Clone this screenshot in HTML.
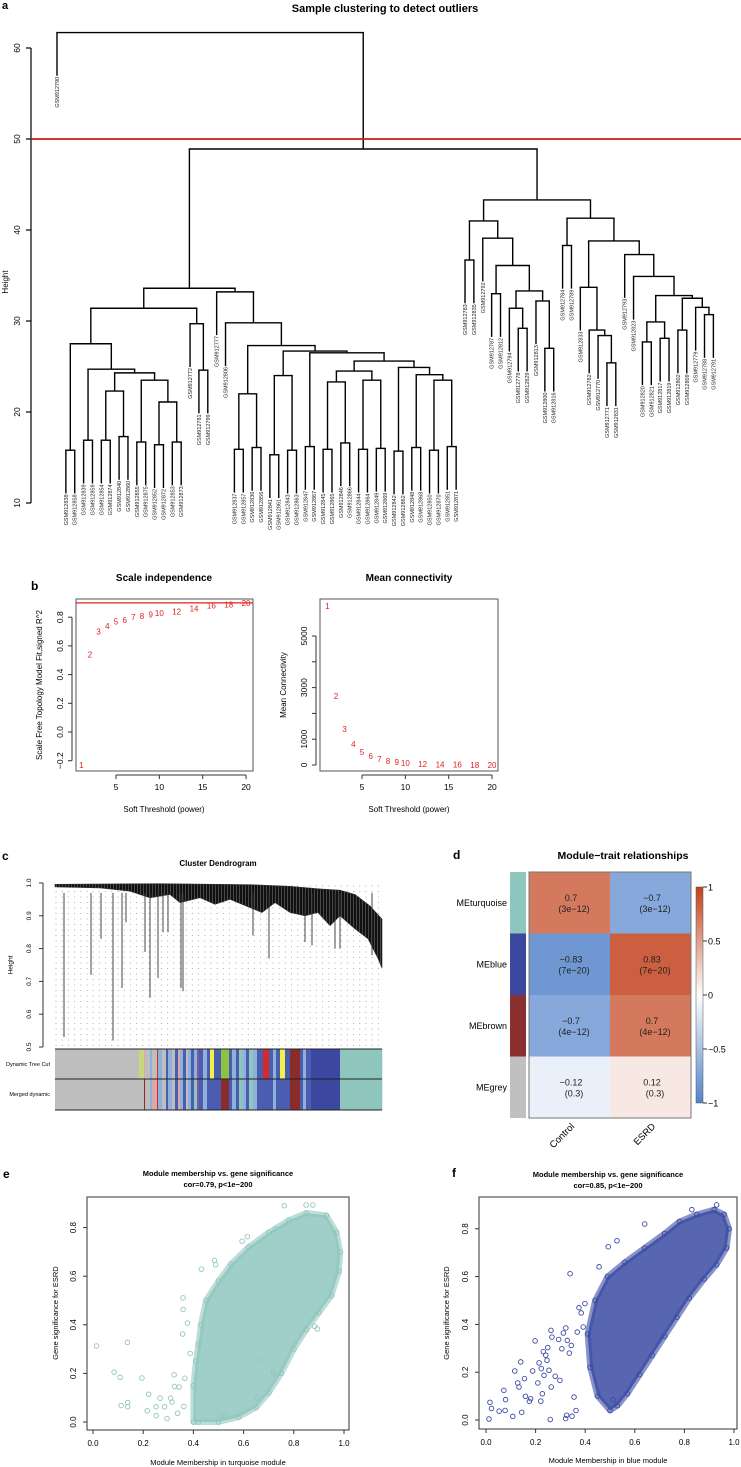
<!DOCTYPE html>
<html><head><meta charset="utf-8">
<style>
html,body{margin:0;padding:0;background:#fff;}
svg{display:block;font-family:"Liberation Sans",Arial,sans-serif;}
</style></head>
<body>
<svg id="fig" xmlns="http://www.w3.org/2000/svg" width="741" height="1467" viewBox="0 0 741 1467">
<defs>
<pattern id="dots" x="55" y="885" width="6.2" height="5.5" patternUnits="userSpaceOnUse"><circle cx="1" cy="1" r="0.45" fill="#888"/></pattern>
<pattern id="hair" x="0" y="0" width="3" height="4" patternUnits="userSpaceOnUse"><rect width="3" height="4" fill="#111"/><rect x="2" width="0.8" height="4" fill="#555"/></pattern>
<linearGradient id="cbar" x1="0" y1="0" x2="0" y2="1">
<stop offset="0" stop-color="#c2411a"/><stop offset="0.5" stop-color="#ffffff"/><stop offset="1" stop-color="#5283ca"/>
</linearGradient>
</defs>
<text x="2" y="9" font-size="11" font-weight="bold">a</text>
<text x="385" y="12" font-size="11" font-weight="bold" text-anchor="middle">Sample clustering to detect outliers</text>
<text x="6" y="282" font-size="8" text-anchor="middle" transform="rotate(-90 6 282)" dominant-baseline="middle">Height</text>

<text x="31" y="590" font-size="12" font-weight="bold">b</text>
<text x="164" y="581" font-size="10" font-weight="bold" text-anchor="middle">Scale independence</text>
<text x="409" y="581" font-size="10" font-weight="bold" text-anchor="middle">Mean connectivity</text>
<text x="40" y="685" font-size="8" text-anchor="middle" transform="rotate(-90 40 685)" dominant-baseline="middle">Scale Free Topology Model Fit,signed R^2</text>
<text x="284" y="685" font-size="8" text-anchor="middle" transform="rotate(-90 284 685)" dominant-baseline="middle">Mean Connectivity</text>
<text x="164" y="812" font-size="8" text-anchor="middle">Soft Threshold (power)</text>
<text x="409" y="812" font-size="8" text-anchor="middle">Soft Threshold (power)</text>

<text x="2" y="860" font-size="12" font-weight="bold">c</text>
<text x="218" y="866" font-size="8" font-weight="bold" text-anchor="middle">Cluster Dendrogram</text>
<text x="11" y="965" font-size="6.5" text-anchor="middle" transform="rotate(-90 11 965)" dominant-baseline="middle">Height</text>
<text x="50" y="1066" font-size="5.5" text-anchor="end">Dynamic Tree Cut</text>
<text x="50" y="1096" font-size="5.5" text-anchor="end">Merged dynamic</text>

<text x="453" y="859" font-size="12" font-weight="bold">d</text>
<text x="623" y="859" font-size="10.5" font-weight="bold" text-anchor="middle">Module−trait relationships</text>

<text x="3" y="1178" font-size="12" font-weight="bold">e</text>
<text x="218" y="1176" font-size="7.5" font-weight="bold" text-anchor="middle">Module membership vs. gene significance</text>
<text x="218" y="1187" font-size="7.5" font-weight="bold" text-anchor="middle">cor=0.79, p&lt;1e−200</text>
<text x="56" y="1313" font-size="7.5" text-anchor="middle" transform="rotate(-90 56 1313)" dominant-baseline="middle">Gene significance for  ESRD</text>
<text x="218" y="1465" font-size="7.5" text-anchor="middle">Module Membership in turquoise module</text>

<text x="452" y="1177" font-size="12" font-weight="bold">f</text>
<text x="608" y="1177" font-size="7.5" font-weight="bold" text-anchor="middle">Module membership vs. gene significance</text>
<text x="608" y="1188" font-size="7.5" font-weight="bold" text-anchor="middle">cor=0.85, p&lt;1e−200</text>
<text x="447" y="1313" font-size="7.5" text-anchor="middle" transform="rotate(-90 447 1313)" dominant-baseline="middle">Gene significance for  ESRD</text>
<text x="608" y="1463" font-size="7.5" text-anchor="middle">Module Membership in blue module</text>
</svg>
<script>
// ---------- DATA ----------
const sampleNames = ["12790","12838","12858","12839","12859","12854","12874","12840","12860","12855","12875","12852","12872","12853","12873","12772","12781","12799","12777","12806","12837","12857","12836","12856","12841","12861","12843","12863","12847","12867","12845","12865","12846","12866","12844","12864","12849","12869","12842","12862","12848","12868","12850","12870","12851","12871","12783","12835","12792","12787","12812","12794","12778","12829","12813","12800","12816","12784","12789","12833","12782","12770","12771","12831","12793","12823","12820","12821","12817","12819","12802","12809","12779","12788","12791"];
const treeA = [27.5,[15.8,1,2],[24.7,[16.9,3,4],[24.3,[22.3,[16.9,5,6],[17.3,7,8]],[23.5,[16.7,9,10],[21.1,[16.4,11,12],[16.7,13,14]]]]]];
const treeB = [29.7,15,[24.6,16,17]];
const treeD = [27.3,[22.0,[15.9,20,21],[16.1,22,23]],[26.7,[24.0,[15.3,24,25],[15.8,26,27]],[26.5,[16.2,28,29],[25.6,[24.5,[23.3,[15.9,30,31],[16.6,32,33]],[23.5,[15.9,34,35],[16.0,36,37]]],[24.9,[15.7,38,39],[24.1,[16.1,40,41],[23.5,[15.8,42,43],[16.2,44,45]]]]]]]];
const treeL = [33.6,[31.4,treeA,treeB],[33.2,18,[29.8,19,treeD]]];
const treeR1 = [41.0,[36.7,46,47],[39.1,48,[36.1,[33.0,49,50],[33.3,[31.4,51,[29.2,52,53]],[32.2,54,[27.0,55,56]]]]]];
const treeR2 = [41.3,[38.3,57,58],[38.8,[33.7,59,[29.0,60,[28.4,61,[25.4,62,63]]]],[37.3,64,[34.9,65,[32.8,[29.9,[27.7,66,67],[28.1,68,69]],[32.5,[29.0,70,71],[31.5,72,[30.7,73,74]]]]]]]];
const sampleTree = [61.7,0,[48.9,treeL,[43.3,treeR1,treeR2]]];
const heightTicks = [10,20,30,40,50,60];
const cutHeight = 50;

const powers = [1,2,3,4,5,6,7,8,9,10,12,14,16,18,20];
const r2Values = [-0.23,0.54,0.70,0.74,0.77,0.78,0.80,0.81,0.82,0.83,0.84,0.86,0.88,0.89,0.90];
const meanK = [6160,2670,1400,810,500,350,230,160,110,80,40,20,10,5,3];
const r2Ticks = [-0.2,0,0.2,0.4,0.6,0.8];
const kTicks = [0,1000,2000,3000,4000,5000];
const kTickLabels = ["0","1000","","3000","","5000"];
const powerTicks = [5,10,15,20];
const r2Cut = 0.9;

const dendroTop = [[55,0.996],[160,0.998],[250,0.995],[290,0.99],[320,0.982],[340,0.978],[355,0.965],[370,0.93],[382,0.89]];
const dendroBottom = [[55,0.988],[100,0.985],[130,0.975],[150,0.955],[170,0.965],[180,0.94],[200,0.955],[215,0.935],[230,0.95],[250,0.925],[262,0.91],[275,0.94],[290,0.91],[305,0.90],[318,0.91],[330,0.87],[340,0.90],[355,0.86],[368,0.83],[378,0.77],[382,0.74]];
const dendroDropX = [64,91,101,113,122,126,145,150,158,163,168,181,183,253,269,305,312,335,340,372];
const dendroDropH = [0.53,0.72,0.83,0.52,0.68,0.88,0.79,0.65,0.71,0.85,0.85,0.68,0.67,0.84,0.77,0.82,0.81,0.80,0.80,0.78];
const dendroTicks = [0.5,0.6,0.7,0.8,0.9,1.0];
const moduleColors = {g:"#bebebe",L:"#c7d97a",k:"#d9a9a9",n:"#8b2c2c",l:"#8fb0d9",r:"#d42a2a",b:"#4a5db0",B:"#3c48a0",p:"#7b5aa0",t:"#8ec6be",y:"#f1f14a",G:"#8cc33f"};
const colorSegments = [[55,137,"g","g"],[137,139,"g","g"],[139,144,"L","g"],[144,145,"k","n"],[145,150,"g","g"],[150,152,"l","l"],[152,157,"g","k"],[157,158,"r","r"],[158,162,"l","l"],[162,166,"g","g"],[166,168,"b","b"],[168,172,"l","l"],[172,175,"g","g"],[175,178,"b","b"],[178,180,"k","k"],[180,183,"l","l"],[183,186,"b","b"],[186,188,"g","g"],[188,191,"l","l"],[191,194,"b","b"],[194,197,"l","t"],[197,199,"p","p"],[199,203,"b","b"],[203,207,"l","l"],[207,210,"b","b"],[210,214,"y","b"],[214,221,"b","b"],[221,229,"G","n"],[229,232,"b","b"],[232,236,"l","l"],[236,239,"b","b"],[239,243,"t","t"],[243,246,"l","l"],[246,249,"b","b"],[249,253,"t","t"],[253,257,"l","l"],[257,263,"b","b"],[263,269,"r","b"],[269,273,"b","b"],[273,276,"l","l"],[276,280,"b","b"],[280,285,"y","b"],[285,290,"b","b"],[290,300,"n","n"],[300,303,"b","b"],[303,306,"l","l"],[306,311,"b","b"],[311,340,"B","B"],[340,382,"t","t"]];

const modules = ["MEturquoise","MEblue","MEbrown","MEgrey"];
const moduleSwatch = ["#8ec6be","#3c48a0","#8b2f2f","#c0c0c0"];
const traits = ["Control","ESRD"];
const corControl = [0.7,-0.83,-0.7,-0.12];
const corESRD = [-0.7,0.83,0.7,0.12];
const pvals = ["3e-12","7e-20","4e-12","0.3"];
const cbarTicks = [1,0.5,0,-0.5,-1];

const eCloudMM = [0.40,0.40,0.41,0.42,0.43,0.45,0.50,0.55,0.62,0.70,0.78,0.85,0.93,0.97,0.985,0.98,0.95,0.90,0.85,0.80,0.75,0.70,0.65,0.58,0.50,0.42];
const eCloudGS = [0.00,0.15,0.25,0.32,0.40,0.50,0.58,0.65,0.72,0.78,0.83,0.86,0.85,0.78,0.70,0.62,0.52,0.45,0.38,0.30,0.20,0.12,0.06,0.02,0.00,0.00];
const eOutMM = [0.014,0.137,0.084,0.108,0.195,0.112,0.138,0.138,0.222,0.216,0.251,0.252,0.267,0.285,0.295,0.309,0.323,0.315,0.337,0.325,0.343,0.359,0.359,0.357,0.376,0.387,0.366,0.362,0.432,0.484,0.669,0.718,0.720,0.652,0.506,0.528,0.894,0.883,0.762,0.849,0.876,0.727,0.615,0.594,0.489];
const eOutGS = [0.313,0.328,0.205,0.184,0.181,0.068,0.080,0.063,0.114,0.046,0.063,0.026,0.098,0.063,0.014,0.098,0.194,0.082,0.036,0.146,0.144,0.511,0.463,0.362,0.407,0.282,0.180,0.064,0.629,0.665,0.253,0.206,0.198,0.099,0.027,0.027,0.383,0.394,0.890,0.893,0.893,0.794,0.763,0.744,0.647];

const fCloudMM = [0.50,0.45,0.42,0.41,0.44,0.49,0.56,0.64,0.72,0.78,0.85,0.92,0.96,0.98,0.97,0.93,0.88,0.82,0.77,0.72,0.67,0.62,0.57,0.53];
const fCloudGS = [0.04,0.10,0.22,0.36,0.50,0.60,0.66,0.72,0.78,0.83,0.86,0.88,0.86,0.80,0.72,0.65,0.59,0.51,0.43,0.35,0.27,0.19,0.11,0.06];
const fOutMM = [0.016,0.022,0.012,0.053,0.072,0.079,0.077,0.108,0.116,0.128,0.133,0.144,0.140,0.155,0.159,0.175,0.180,0.188,0.198,0.209,0.214,0.221,0.223,0.227,0.231,0.234,0.241,0.246,0.249,0.254,0.259,0.263,0.262,0.266,0.279,0.293,0.298,0.306,0.312,0.322,0.328,0.336,0.339,0.344,0.355,0.363,0.368,0.375,0.384,0.392,0.399,0.456,0.493,0.528,0.513,0.321,0.325,0.347,0.64,0.93,0.83];
const fOutGS = [0.074,0.048,0.004,0.037,0.124,0.085,0.040,0.015,0.205,0.155,0.138,0.032,0.243,0.173,0.099,0.078,0.089,0.205,0.331,0.155,0.239,0.079,0.215,0.110,0.286,0.187,0.271,0.250,0.303,0.208,0.002,0.138,0.375,0.347,0.183,0.337,0.166,0.298,0.364,0.385,0.333,0.280,0.612,0.312,0.096,0.040,0.368,0.470,0.448,0.389,0.487,0.641,0.725,0.750,0.085,0.006,0.020,0.016,0.82,0.90,0.88];
const mmTicks = [0,0.2,0.4,0.6,0.8,1.0];
const gsTicks = [0,0.2,0.4,0.6,0.8];

// ---------- HELPERS ----------
const NS = "http://www.w3.org/2000/svg";
const svg = document.getElementById("fig");
function mk(tag, attrs, parent){
  const e = document.createElementNS(NS, tag);
  for (const k in attrs) e.setAttribute(k, attrs[k]);
  (parent || svg).appendChild(e);
  return e;
}
function group(name){
  const g = mk("g", {});
  
  
  return g;
}

// ---------- PANEL A ----------
const aY = v => 139 + (50 - v) * 9.1;
const aX = i => 57 + i * 8.87;
const gA = group("sample-dendrogram");
const hang = 4.75;
function drawNode(node, parentH){
  if (typeof node === "number"){
    const x = aX(node), yb = aY(parentH - hang);
    const l = mk("line", {x1:x, y1:aY(parentH), x2:x, y2:yb, stroke:"#000", "stroke-width":1.4}, gA);
    
    
    const t = mk("text", {x:x+2, y:yb+1, "font-size":5.5, "text-anchor":"end", transform:`rotate(-90 ${x+2} ${yb+1})`, fill:"#222"}, gA);
    t.textContent = "GSM9" + sampleNames[node];
    
    
    return x;
  }
  const h = node[0];
  const xl = drawNode(node[1], h), xr = drawNode(node[2], h);
  [node[1], node[2]].forEach((c, j) => {
    if (typeof c !== "number"){
      const cx = j ? xr : xl;
      const v = mk("line", {x1:cx, y1:aY(c[0]), x2:cx, y2:aY(h), stroke:"#000", "stroke-width":1.4}, gA);
      
      
    }
  });
  const hz = mk("line", {x1:xl-0.7, y1:aY(h), x2:xr+0.7, y2:aY(h), stroke:"#000", "stroke-width":1.4}, gA);
  
  
  return (xl + xr) / 2;
}
drawNode(sampleTree, 0);
const axA = mk("line", {x1:31, y1:aY(60), x2:31, y2:aY(10), stroke:"#000", "stroke-width":1.2});


heightTicks.forEach(v => {
  const tk = mk("line", {x1:26, y1:aY(v), x2:31, y2:aY(v), stroke:"#000", "stroke-width":1.2});
  
  
  const t = mk("text", {x:20, y:aY(v), "font-size":8.5, "text-anchor":"middle", transform:`rotate(-90 20 ${aY(v)})`});
  t.textContent = v;
  
  
});
const cut = mk("line", {x1:31, y1:aY(cutHeight), x2:741, y2:aY(cutHeight), stroke:"#d01818", "stroke-width":1.8});



// ---------- PANEL B ----------
function bPanel(name, x0, x1, xs, ys, yticks, ylabels, vals){
  const g = group(name);
  const box = mk("rect", {x:x0, y:599, width:x1-x0, height:172, fill:"none", stroke:"#555", "stroke-width":1}, g);
  
  
  const ax = mk("line", {x1:xs(5), y1:775, x2:xs(20), y2:775, stroke:"#333"}, g);
  
  
  powerTicks.forEach(p => {
    const tk = mk("line", {x1:xs(p), y1:775, x2:xs(p), y2:779, stroke:"#333"}, g);
    
    
    const t = mk("text", {x:xs(p), y:790, "font-size":8.5, "text-anchor":"middle"}, g);
    t.textContent = p;
    
    
  });
  const yax = mk("line", {x1:x0-4, y1:ys(yticks[0]), x2:x0-4, y2:ys(yticks[yticks.length-1]), stroke:"#333"}, g);
  
  
  yticks.forEach((v, i) => {
    const tk = mk("line", {x1:x0-8, y1:ys(v), x2:x0-4, y2:ys(v), stroke:"#333"}, g);
    
    
    const t = mk("text", {x:x0-13, y:ys(v), "font-size":8.5, "text-anchor":"middle", transform:`rotate(-90 ${x0-13} ${ys(v)})`}, g);
    t.textContent = ylabels[i];
    
    
  });
  powers.forEach((p, i) => {
    const t = mk("text", {x:xs(p), y:ys(vals[i]) + 3, "font-size":8, "text-anchor":"middle", fill:"#e0201f"}, g);
    t.textContent = p;
    
    
  });
  return g;
}
const xsL = p => 116 + (p - 5) * 8.67;
const ysL = v => 732 - v * 143.5;
const gB1 = bPanel("scale-independence-plot", 76, 253, xsL, ysL, r2Ticks, r2Ticks.map(v => v.toFixed(1).replace("-", "−")), r2Values);
const r2line = mk("line", {x1:76, y1:ysL(r2Cut), x2:253, y2:ysL(r2Cut), stroke:"#e0201f", "stroke-width":1.3}, gB1);


const xsR = p => 362 + (p - 5) * 8.67;
const ysR = k => 765 - k * 0.0258;
bPanel("mean-connectivity-plot", 320, 498, xsR, ysR, kTicks, kTickLabels, meanK);

// ---------- PANEL C ----------
const cY = v => 1047 - (v - 0.5) * 328;
const gC = group("gene-dendrogram");
const dotRect = mk("rect", {x:55, y:cY(0.995), width:327, height:cY(0.5)-cY(0.995), fill:"url(#dots)"}, gC);


const bandPts = dendroTop.map(p => p[0] + "," + cY(p[1])).concat(dendroBottom.slice().reverse().map(p => p[0] + "," + cY(p[1])));
const band = mk("polygon", {points:bandPts.join(" "), fill:"url(#hair)", stroke:"#333", "stroke-width":0.6}, gC);


dendroDropX.forEach((x, i) => {
  const l = mk("line", {x1:x, y1:cY(0.97), x2:x, y2:cY(dendroDropH[i]), stroke:"#333", "stroke-width":0.9}, gC);
  
  
});
const cax = mk("line", {x1:43, y1:cY(1), x2:43, y2:cY(0.5), stroke:"#333"}, gC);


dendroTicks.forEach(v => {
  const tk = mk("line", {x1:39, y1:cY(v), x2:43, y2:cY(v), stroke:"#333"}, gC);
  
  
  const t = mk("text", {x:31, y:cY(v), "font-size":6.5, "text-anchor":"middle", transform:`rotate(-90 31 ${cY(v)})`}, gC);
  t.textContent = v.toFixed(1);
  
  
});
const gCB = group("module-color-bars");
colorSegments.forEach(s => {
  const r1 = mk("rect", {x:s[0], y:1049, width:s[1]-s[0]+0.3, height:30, fill:moduleColors[s[2]]}, gCB);
  
  
  const r2 = mk("rect", {x:s[0], y:1079, width:s[1]-s[0]+0.3, height:31, fill:moduleColors[s[3]]}, gCB);
  
  
});
[1049, 1079, 1110].forEach(y => {
  const l = mk("line", {x1:55, y1:y, x2:382, y2:y, stroke:"#222", "stroke-width":1}, gCB);
  
  
});

// ---------- PANEL D ----------
const gD = group("module-trait-heatmap");
const rowTop = i => 872 + i * 61.5;
const colX = j => 529 + j * 81;
function corColor(v){
  const c = v >= 0 ? [194,62,25] : [82,131,202];
  const a = Math.abs(v);
  return "rgb(" + c.map(ch => Math.round(255*(1-a) + ch*a)).join(",") + ")";
}
modules.forEach((m, i) => {
  const sw = mk("rect", {x:510, y:rowTop(i), width:16, height:61.5, fill:moduleSwatch[i]}, gD);
  
  
  const lab = mk("text", {x:507, y:rowTop(i)+34, "font-size":9, "text-anchor":"end"}, gD);
  lab.textContent = m;
  
  
  [corControl[i], corESRD[i]].forEach((v, j) => {
    const cell = mk("rect", {x:colX(j), y:rowTop(i), width:81, height:61.5, fill:corColor(v)}, gD);
    
    
    const t1 = mk("text", {x:colX(j)+42, y:rowTop(i)+29, "font-size":9, "text-anchor":"middle", fill:"#222"}, gD);
    t1.textContent = String(v).replace("-", "−");
    
    
    const t2 = mk("text", {x:colX(j)+45, y:rowTop(i)+40, "font-size":9, "text-anchor":"middle", fill:"#222"}, gD);
    t2.textContent = "(" + pvals[i].replace("-", "−") + ")";
    
    
  });
});
const hframe = mk("rect", {x:529, y:872, width:162, height:246, fill:"none", stroke:"#777", "stroke-width":1}, gD);


traits.forEach((tr, j) => {
  const cx = colX(j) + 40, cy = 1127;
  const t = mk("text", {x:cx+6, y:cy, "font-size":9.5, "text-anchor":"end", transform:`rotate(-45 ${cx+6} ${cy})`}, gD);
  t.textContent = tr;
  
  
});
const cbY = v => 995 - v * 108;
const cb = mk("rect", {x:696, y:cbY(1), width:7, height:cbY(-1)-cbY(1), fill:"url(#cbar)", stroke:"#555", "stroke-width":0.5}, gD);


cbarTicks.forEach(v => {
  const tk = mk("line", {x1:703, y1:cbY(v), x2:707, y2:cbY(v), stroke:"#333"}, gD);
  
  
  const t = mk("text", {x:708, y:cbY(v)+3.5, "font-size":9}, gD);
  t.textContent = String(v).replace("-", "−");
  
  
});

// ---------- PANELS E / F ----------
function scatter(name, box, xs, ys, col, cloudX, cloudY, outX, outY){
  const g = group(name);
  const fr = mk("rect", {x:box[0], y:box[1], width:box[2]-box[0], height:box[3]-box[1], fill:"none", stroke:"#333", "stroke-width":1}, g);
  
  
  const pts = cloudX.map((v, i) => xs(v) + "," + ys(cloudY[i])).join(" ");
  const cl = mk("polygon", {points:pts, fill:col, "fill-opacity":0.85, stroke:col, "stroke-opacity":0.6, "stroke-width":6, "stroke-linejoin":"round"}, g);
  
  
  cloudX.forEach((v, i) => {
    const c = mk("circle", {cx:xs(v), cy:ys(cloudY[i]), r:2.3, fill:"none", stroke:col, "stroke-width":0.9}, g);
    
    
  });
  outX.forEach((v, i) => {
    const c = mk("circle", {cx:xs(v), cy:ys(outY[i]), r:2.3, fill:"none", stroke:col, "stroke-width":0.9}, g);
    
    
  });
  mmTicks.forEach(v => {
    const tk = mk("line", {x1:xs(v), y1:box[3], x2:xs(v), y2:box[3]+4, stroke:"#333"}, g);
    
    
    const t = mk("text", {x:xs(v), y:box[3]+16, "font-size":8, "text-anchor":"middle"}, g);
    t.textContent = v.toFixed(1);
    
    
  });
  gsTicks.forEach(v => {
    const tk = mk("line", {x1:box[0]-4, y1:ys(v), x2:box[0], y2:ys(v), stroke:"#333"}, g);
    
    
    const tx = box[0] - 11;
    const t = mk("text", {x:tx, y:ys(v), "font-size":8, "text-anchor":"middle", transform:`rotate(-90 ${tx} ${ys(v)})`}, g);
    t.textContent = v.toFixed(1);
    
    
  });
}
scatter("turquoise-mm-gs-scatter", [87,1197,349,1430], v => 93 + v*251, v => 1422 - v*243, "#8fc6be", eCloudMM, eCloudGS, eOutMM, eOutGS);
scatter("blue-mm-gs-scatter", [479,1197,737,1429], v => 486 + v*248, v => 1420 - v*239, "#3b4ba3", fCloudMM, fCloudGS, fOutMM, fOutGS);
</script>
</body></html>
